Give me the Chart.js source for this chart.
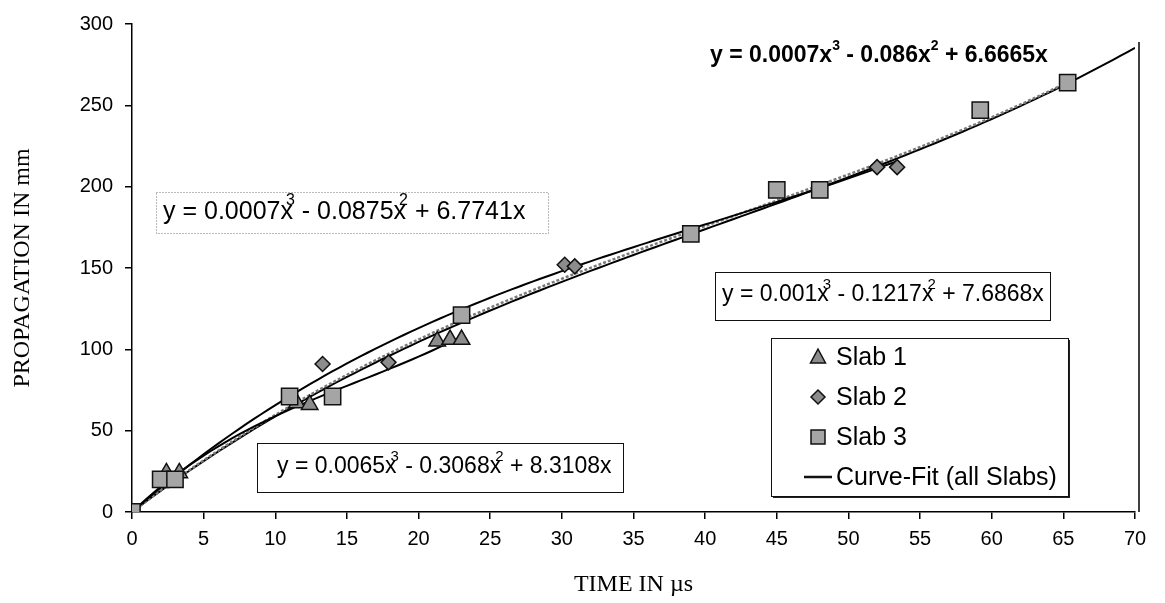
<!DOCTYPE html>
<html>
<head>
<meta charset="utf-8">
<title>Propagation vs time</title>
<script src="https://cdn.jsdelivr.net/npm/chart.js@4.4.1/dist/chart.umd.min.js"></script>
<style>
  html, body { margin: 0; padding: 0; background: #ffffff; }
  #wrap { width: 1165px; height: 603px; position: relative; }
</style>
</head>
<body>
<div id="wrap"><canvas id="c" width="1165" height="603"></canvas></div>
<script>
// Measured points (time in µs, propagation in mm)
const slab1X = [2.4, 3.3, 11.5, 12.4, 21.3, 22.2, 23.0];
const slab1Y = [24, 24, 67, 66, 105, 106, 106];
const slab2X = [13.3, 17.9, 30.2, 30.9, 52.0, 53.4];
const slab2Y = [91, 92, 152, 151, 212, 212];
const slab3X = [0, 2.0, 3.0, 11.0, 14.0, 23.0, 39.0, 45.0, 48.0, 59.2, 65.3];
const slab3Y = [0, 20, 20, 71, 71, 121, 171, 198, 198, 247, 264];

// Cubic trend-line coefficients [x^3, x^2, x] and the x range each one spans
const fitSlab1 = ['0.0065', '-0.3068', '8.3108'];
const fitSlab2 = ['0.001', '-0.1217', '7.6868'];
const fitSlab3 = ['0.0007', '-0.0875', '6.7741'];
const fitAll   = ['0.0007', '-0.086', '6.6665'];
const fitRange1 = [0, 23];
const fitRange2 = [0, 53.4];
const fitRange3 = [0, 65.3];
const fitRangeAll = [0, 70];

const xTicks = [0, 5, 10, 15, 20, 25, 30, 35, 40, 45, 50, 55, 60, 65, 70];
const yTicks = [0, 50, 100, 150, 200, 250, 300];

const toPts = (xs, ys) => xs.map((x, i) => ({ x: x, y: ys[i] }));

function curve(coef, range) {
  const a = parseFloat(coef[0]), b = parseFloat(coef[1]), c = parseFloat(coef[2]);
  const pts = [];
  const n = Math.round((range[1] - range[0]) / 0.5);
  for (let i = 0; i <= n; i++) {
    const x = range[0] + (range[1] - range[0]) * i / n;
    pts.push({ x: x, y: a * x * x * x + b * x * x + c * x });
  }
  return pts;
}

function eqParts(coef) {
  const b = coef[1].replace('-', '');
  const sign = coef[1].startsWith('-') ? ' - ' : ' + ';
  return [
    { t: 'y = ' + coef[0] + 'x' },
    { t: '3', sup: true },
    { t: sign + b + 'x' },
    { t: '2', sup: true },
    { t: ' + ' + coef[2] + 'x' }
  ];
}

const SANS = '"Liberation Sans", Arial, sans-serif';
const SERIF = '"Liberation Serif", "Times New Roman", serif';

function drawEq(ctx, parts, x, y, opt) {
  ctx.fillStyle = '#000';
  ctx.textAlign = 'left';
  ctx.textBaseline = 'middle';
  let cx = x;
  parts.forEach(p => {
    if (p.sup) {
      ctx.font = opt.supFont;
      const w = ctx.measureText(p.t).width;
      ctx.fillText(p.t, cx - opt.overlap, y - opt.raise);
      cx += w - opt.overlap;
    } else {
      ctx.font = opt.font;
      ctx.fillText(p.t, cx, y);
      cx += ctx.measureText(p.t).width;
    }
  });
  return cx;
}

const equations = [
  { coef: fitAll, x: 710, y: 56, font: 'bold 23px ' + SANS, supFont: 'bold 14px ' + SANS, overlap: 0, raise: 10, box: null },
  { coef: fitSlab3, x: 163, y: 212, font: '25px ' + SANS, supFont: '16px ' + SANS, overlap: 7, raise: 11,
    box: { x: 156, y: 192, w: 392, h: 41, dash: [1, 2], color: '#777' } },
  { coef: fitSlab2, x: 722, y: 295, font: '23px ' + SANS, supFont: '15px ' + SANS, overlap: 6, raise: 10,
    box: { x: 715, y: 272, w: 335, h: 48, dash: [], color: '#111' } },
  { coef: fitSlab1, x: 277, y: 467, font: '23px ' + SANS, supFont: '15px ' + SANS, overlap: 6, raise: 10,
    box: { x: 257, y: 443, w: 366, h: 49, dash: [], color: '#111' } }
];

const legendItems = [
  { label: 'Slab 1', icon: 'triangle' },
  { label: 'Slab 2', icon: 'diamond' },
  { label: 'Slab 3', icon: 'square' },
  { label: 'Curve-Fit (all Slabs)', icon: 'line' }
];

function drawIcon(ctx, kind, x, y) {
  ctx.save();
  ctx.fillStyle = '#8c8c8c';
  ctx.strokeStyle = '#111';
  ctx.lineWidth = 1.5;
  ctx.beginPath();
  if (kind === 'triangle') {
    ctx.moveTo(x, y - 8); ctx.lineTo(x + 7.5, y + 6); ctx.lineTo(x - 7.5, y + 6); ctx.closePath();
    ctx.fill(); ctx.stroke();
  } else if (kind === 'diamond') {
    ctx.moveTo(x, y - 7); ctx.lineTo(x + 7, y); ctx.lineTo(x, y + 7); ctx.lineTo(x - 7, y); ctx.closePath();
    ctx.fill(); ctx.stroke();
  } else if (kind === 'square') {
    ctx.rect(x - 7, y - 7, 14, 14);
    ctx.fillStyle = '#a5a5a5';
    ctx.fill(); ctx.stroke();
  } else {
    ctx.lineWidth = 2.5;
    ctx.moveTo(x - 14, y); ctx.lineTo(x + 14, y); ctx.stroke();
  }
  ctx.restore();
}

const annotations = {
  id: 'annotations',
  afterDatasetsDraw(chart) {
    const ctx = chart.ctx;
    const area = chart.chartArea;
    ctx.save();
    // right frame line of the plot
    ctx.strokeStyle = '#000';
    ctx.lineWidth = 1.5;
    ctx.beginPath();
    ctx.moveTo(area.right + 4, area.top + 18);
    ctx.lineTo(area.right + 4, area.bottom);
    ctx.stroke();

    equations.forEach(e => {
      if (e.box) {
        ctx.save();
        ctx.fillStyle = '#fff';
        ctx.fillRect(e.box.x, e.box.y, e.box.w, e.box.h);
        ctx.strokeStyle = e.box.color;
        ctx.lineWidth = 1;
        ctx.setLineDash(e.box.dash);
        ctx.strokeRect(e.box.x + 0.5, e.box.y + 0.5, e.box.w, e.box.h);
        ctx.restore();
      }
      drawEq(ctx, eqParts(e.coef), e.x, e.y, e);
    });

    // legend box
    const lx = 771, ly = 338, lw = 297, lh = 158;
    ctx.fillStyle = '#fff';
    ctx.fillRect(lx, ly, lw, lh);
    ctx.fillStyle = '#222';
    ctx.fillRect(lx + 2, ly + lh, lw, 2);
    ctx.fillRect(lx + lw, ly + 2, 2, lh);
    ctx.strokeStyle = '#111';
    ctx.lineWidth = 1;
    ctx.strokeRect(lx + 0.5, ly + 0.5, lw, lh);
    ctx.font = '25px ' + SANS;
    ctx.textBaseline = 'middle';
    ctx.textAlign = 'left';
    legendItems.forEach((it, i) => {
      const y = ly + 19 + i * 40;
      drawIcon(ctx, it.icon, 818, y);
      ctx.fillStyle = '#000';
      ctx.fillText(it.label, 836, y + 1);
    });
    ctx.restore();
  }
};

const markerBase = { showLine: false, borderColor: '#111', pointBorderWidth: 1.5, pointHoverRadius: 0 };

new Chart(document.getElementById('c'), {
  type: 'scatter',
  data: {
    datasets: [
      { label: 'Curve-Fit (all Slabs)', data: curve(fitAll, fitRangeAll), showLine: true, borderColor: '#000', borderWidth: 2, pointRadius: 0, order: 7 },
      { label: 'Slab 3 fit', data: curve(fitSlab3, fitRange3), showLine: true, borderColor: '#7a7a7a', borderWidth: 2.5, borderDash: [3, 2], pointRadius: 0, order: 6 },
      { label: 'Slab 2 fit', data: curve(fitSlab2, fitRange2), showLine: true, borderColor: '#000', borderWidth: 2, pointRadius: 0, order: 5 },
      { label: 'Slab 1 fit', data: curve(fitSlab1, fitRange1), showLine: true, borderColor: '#000', borderWidth: 2, pointRadius: 0, order: 4 },
      Object.assign({ label: 'Slab 1', data: toPts(slab1X, slab1Y), pointStyle: 'triangle', pointRadius: 9.5, backgroundColor: '#8c8c8c', pointBackgroundColor: '#8c8c8c', order: 3 }, markerBase),
      Object.assign({ label: 'Slab 2', data: toPts(slab2X, slab2Y), pointStyle: 'rectRot', pointRadius: 7.5, backgroundColor: '#8c8c8c', pointBackgroundColor: '#8c8c8c', order: 2 }, markerBase),
      Object.assign({ label: 'Slab 3', data: toPts(slab3X, slab3Y), pointStyle: 'rect', pointRadius: 11.5, backgroundColor: '#a5a5a5', pointBackgroundColor: '#a5a5a5', order: 1 }, markerBase)
    ]
  },
  options: {
    responsive: false,
    animation: false,
    events: [],
    layout: { padding: { top: 22, right: 30, left: 0, bottom: 0 } },
    plugins: { legend: { display: false }, tooltip: { enabled: false } },
    scales: {
      x: {
        type: 'linear', min: 0, max: 70,
        afterBuildTicks: s => { s.ticks = xTicks.map(v => ({ value: v })); },
        afterFit: s => { s.height = 91; },
        ticks: { color: '#000', font: { family: SANS, size: 20 }, padding: 8 },
        grid: { drawOnChartArea: false, tickLength: 7, color: '#000', lineWidth: 1.5 },
        border: { color: '#000', width: 1.5 },
        title: { display: true, text: 'TIME IN µs', color: '#000', font: { family: SERIF, size: 24 }, padding: { top: 0, bottom: 4 } }
      },
      y: {
        type: 'linear', min: 0, max: 300,
        afterBuildTicks: s => { s.ticks = yTicks.map(v => ({ value: v })); },
        afterFit: s => { s.width = 132; },
        ticks: { color: '#000', font: { family: SANS, size: 20 }, padding: 12 },
        grid: { drawOnChartArea: false, tickLength: 7, color: '#000', lineWidth: 1.5 },
        border: { color: '#000', width: 1.5 },
        title: { display: true, text: 'PROPAGATION IN mm', color: '#000', font: { family: SERIF, size: 24 }, padding: { top: 8, bottom: 0 } }
      }
    }
  },
  plugins: [annotations]
});
</script>
</body>
</html>
